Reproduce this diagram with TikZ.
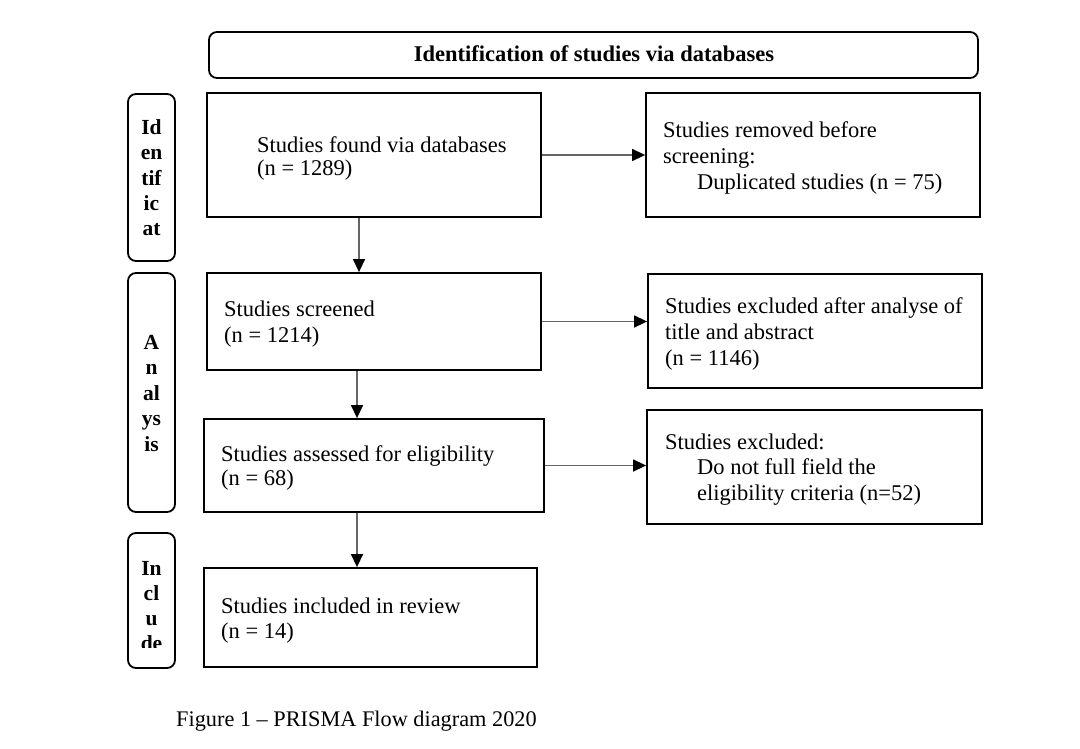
\documentclass[tikz,border=0pt]{standalone}
\usepackage{fontspec}
\setmainfont{Liberation Serif}
\usetikzlibrary{arrows.meta,calc}
\begin{document}
\begin{tikzpicture}[x=1pt,y=-1pt,
  box/.style={draw=black,line width=1.8pt,inner sep=0pt},
  rbox/.style={box,rounded corners=8pt},
  txt/.style={align=left,inner sep=0pt,anchor=base west},
  lab/.style={align=center,inner sep=0pt,anchor=base,font=\fontsize{21.5}{25.5}\selectfont\bfseries},
  arr/.style={draw=black!60,line width=1.4pt,-{Triangle[length=13pt,width=12pt,color=black]}}]
\useasboundingbox[fill=white] (0,0) rectangle (1080,749);
% header
\node[rbox,minimum width=769pt,minimum height=46pt] (hdr) at (593.5,55) {};
\node[inner sep=0pt,anchor=base,font=\fontsize{22.5}{26}\selectfont\bfseries] (hdrt) at (594,62) {Identification of studies via databases};
% left labels
\node[rbox,minimum width=47pt,minimum height=167pt] (L1) at (151.5,177.5) {};
\node[rbox,minimum width=47pt,minimum height=239pt] (L2) at (151.5,392.5) {};
\node[rbox,minimum width=47pt,minimum height=135pt] (L3) at (151.5,600.5) {};
\node[lab] (l1t) at (151.5,236) {Id\\en\\tif\\ic\\at};
\node[lab] (l2t) at (151.5,451) {A\\n\\al\\ys\\is};
\begin{scope}
\clip (130,535) rectangle (173,647);
\node[lab,font=\fontsize{21.5}{25}\selectfont\bfseries] (l3t) at (151.5,650) {In\\cl\\u\\de};
\end{scope}
% main boxes
\node[box,minimum width=334pt,minimum height=124pt] (b1) at (374,155) {};
\node[box,minimum width=334pt,minimum height=124pt] (r1) at (813,155) {};
\node[box,minimum width=334pt,minimum height=97pt] (b2) at (374,321.5) {};
\node[box,minimum width=334pt,minimum height=114pt] (r2) at (815,331) {};
\node[box,minimum width=340pt,minimum height=93pt] (b3) at (374,465.5) {};
\node[box,minimum width=335pt,minimum height=114pt] (r3) at (814.5,467) {};
\node[box,minimum width=333pt,minimum height=99pt] (b4) at (370.5,617.5) {};
% texts (anchor = baseline of last line)
\node[txt,font=\fontsize{22.5}{24}\selectfont] (t1) at (257,176) {Studies found via databases\\(n = 1289)};
\node[txt,font=\fontsize{22.5}{26}\selectfont] (tr1) at (663,190) {Studies removed before\\screening:\\\hspace*{34pt}Duplicated studies (n = 75)};
\node[txt,font=\fontsize{22.5}{26.5}\selectfont] (t2) at (224,342.5) {Studies screened\\(n = 1214)};
\node[txt,font=\fontsize{22.5}{26}\selectfont] (tr2) at (665,365) {Studies excluded after analyse of\\title and abstract\\(n = 1146)};
\node[txt,font=\fontsize{22.5}{24}\selectfont] (t3) at (221,485) {Studies assessed for eligibility\\(n = 68)};
\node[txt,font=\fontsize{22.5}{25.5}\selectfont] (tr3) at (665,500) {Studies excluded:\\\hspace*{32pt}Do not full field the\\\hspace*{32pt}eligibility criteria (n=52)};
\node[txt,font=\fontsize{22.5}{25}\selectfont] (t4) at (221,638) {Studies included in review\\(n = 14)};
% arrows
\draw[arr] (b1.east) -- (r1.west);
\draw[arr] (b2.east) -- (b2.east -| r2.west);
\draw[arr] (b3.east) -- (b3.east -| r3.west);
\draw[arr] ([xshift=-15pt]b1.south) -- ([xshift=-15pt]b1.south |- b2.north);
\draw[arr] ([xshift=-17pt]b2.south) -- ([xshift=-17pt]b2.south |- b3.north);
\draw[arr] ([xshift=-17pt]b3.south) -- ([xshift=-17pt]b3.south |- b4.north);
% caption
\node[anchor=base west,inner sep=0pt,font=\fontsize{22.3}{26}\selectfont] (cap) at (176,726) {Figure 1 -- PRISMA Flow diagram 2020};
\end{tikzpicture}
\end{document}
